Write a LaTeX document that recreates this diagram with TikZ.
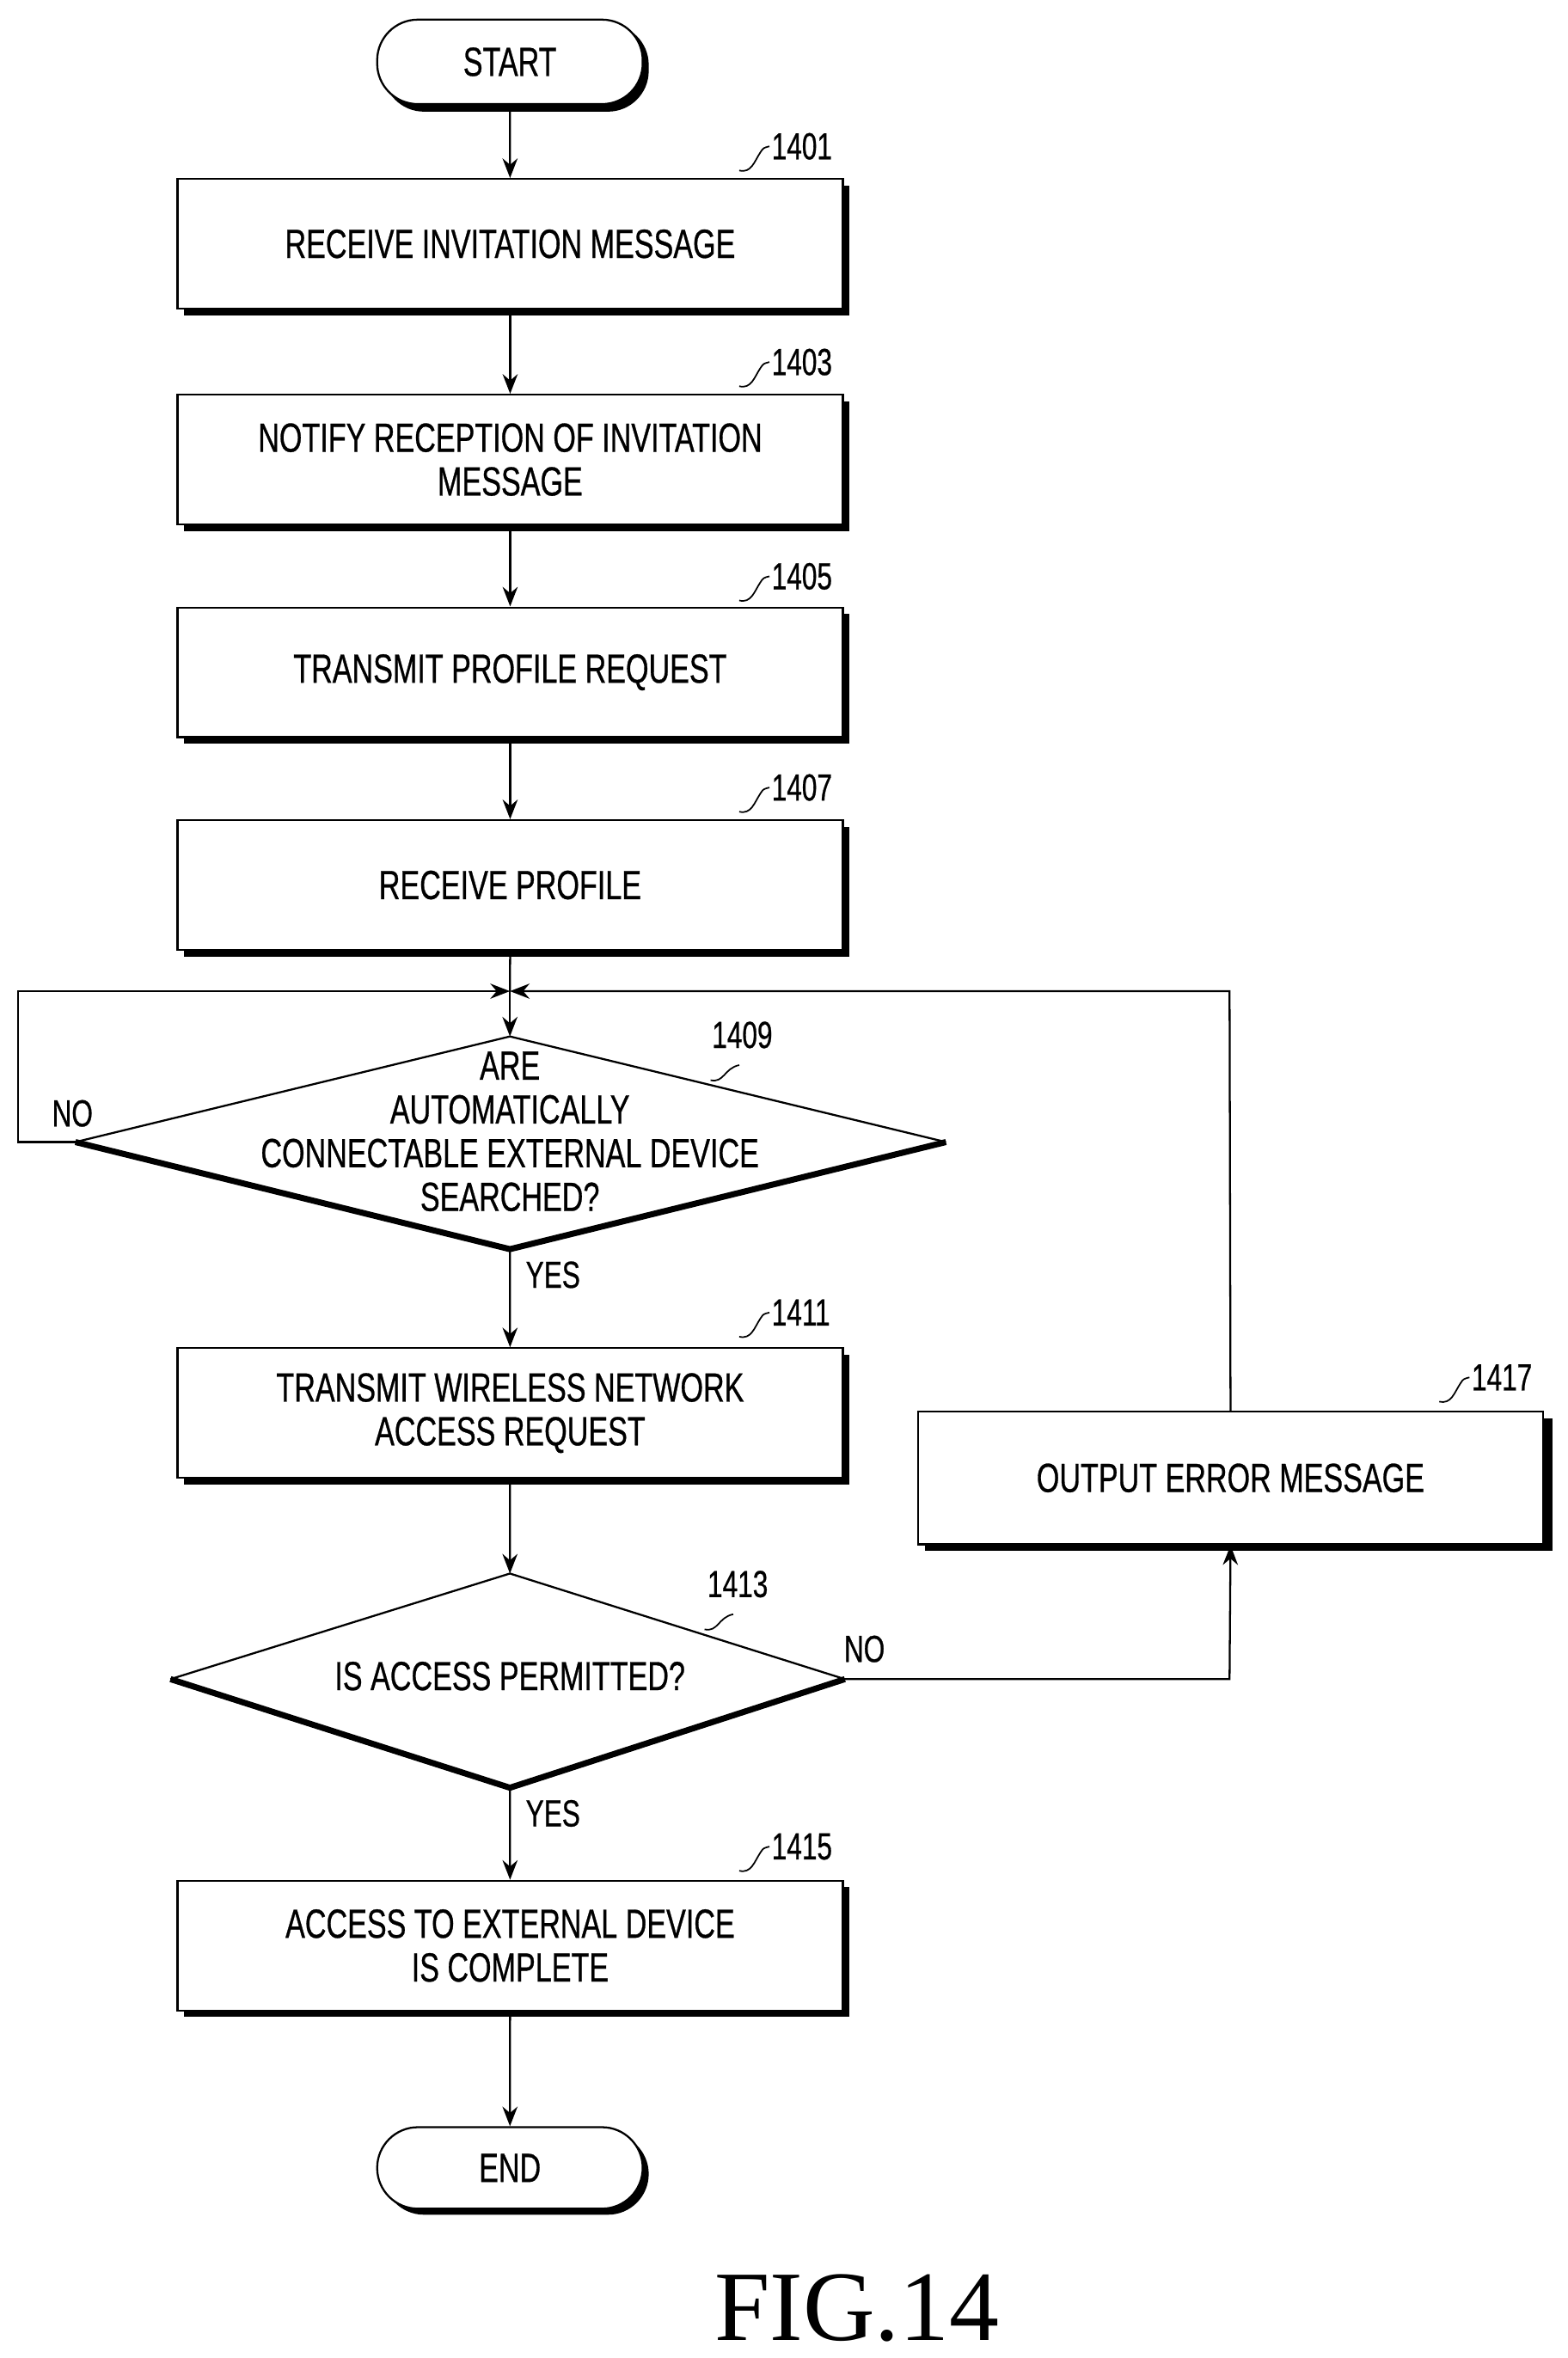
\documentclass[tikz,border=0pt]{standalone}
\usepackage{fontspec}
\setmainfont{Liberation Sans}[FakeStretch=0.72,FakeBold=0.6]
\newfontfamily\figfont{Liberation Serif}
\usetikzlibrary{arrows.meta,shapes.geometric}
\begin{document}
\begin{tikzpicture}[x=1pt,y=-1pt,
  txt/.style={font=\fontsize{27}{29}\selectfont,align=center},
  box/.style={draw,line width=1.3pt,fill=white,minimum width=441pt,minimum height=86pt,txt},
  term/.style={draw,line width=1.3pt,fill=white,rounded corners=27pt,minimum width=176pt,minimum height=56pt,txt},
  arr/.style={line width=1.3pt,-{Stealth[length=13pt,width=10pt]}},
  ln/.style={line width=1.3pt},
  num/.style={font=\fontsize{25}{26}\selectfont},
  yn/.style={font=\fontsize{25}{26}\selectfont}]
\useasboundingbox (0,0) rectangle (1039,1563);
\newcommand\shbox[4]{%
  \fill (#2+5,#3+5) rectangle +(441,86);
  \node[box,anchor=north west] (#1) at (#2,#3) {#4};}
\fill[rounded corners=27pt] (254,16) rectangle (430,74);
\node[term] (start) at (338,41) {START};
\shbox{b1401}{117}{118}{RECEIVE INVITATION MESSAGE}
\shbox{b1403}{117}{261}{NOTIFY RECEPTION OF INVITATION\\MESSAGE}
\shbox{b1405}{117}{402}{TRANSMIT PROFILE REQUEST}
\shbox{b1407}{117}{543}{RECEIVE PROFILE}
\shbox{b1411}{117}{893}{TRANSMIT WIRELESS NETWORK\\ACCESS REQUEST}
\shbox{b1415}{117}{1246}{ACCESS TO EXTERNAL DEVICE\\IS COMPLETE}
\fill (613,940) rectangle +(416,88);
\node[box,minimum width=414pt,minimum height=88pt,anchor=north west] (b1417) at (608,935) {OUTPUT ERROR MESSAGE};
\fill[rounded corners=27pt] (254,1414) rectangle (430,1468);
\node[term,minimum height=54pt] (end) at (338,1437) {END};
\coordinate (d1t) at (338,687); \coordinate (d1l) at (50,757);
\coordinate (d1r) at (627,757); \coordinate (d1b) at (338,828);
\fill[white] (d1t)--(d1r)--(d1b)--(d1l)--cycle;
\draw[ln] (d1l)--(d1t)--(d1r);
\draw[line width=4pt] (d1l)--(d1b)--(d1r);
\node[txt] (d1) at (338,750) {ARE\\AUTOMATICALLY\\CONNECTABLE EXTERNAL DEVICE\\SEARCHED?};
\coordinate (d2t) at (338,1043); \coordinate (d2l) at (113,1113);
\coordinate (d2r) at (560,1113); \coordinate (d2b) at (338,1185);
\draw[ln] (d2l)--(d2t)--(d2r);
\draw[line width=4pt] (d2l)--(d2b)--(d2r);
\node[txt] (d2) at (338,1111) {IS ACCESS PERMITTED?};
\newcommand\lbl[3]{%
  \node[num,anchor=west] at (#1+6,#2) {#3};
  \draw[line width=1pt] (#1-12,#2+16) .. controls (#1-4,#2+18) and (#1-2,#2+10) .. (#1+2,#2+4) .. controls (#1+4,#2+1) .. (#1+8,#2);}
\lbl{502}{97}{1401}
\lbl{502}{240}{1403}
\lbl{502}{382}{1405}
\lbl{502}{522}{1407}
\lbl{502}{870}{1411}
\lbl{966}{913}{1417}
\node[num] at (492,686) {1409};
\draw[line width=1pt] (471,716) .. controls (480,718) and (480,708) .. (490,706);
\node[num] at (489,1050) {1413};
\draw[line width=1pt] (467,1080) .. controls (476,1082) and (476,1072) .. (486,1070);
\lbl{502}{1224}{1415}
\draw[arr] (start) -- (b1401);
\draw[arr] (b1401) -- (b1403);
\draw[arr] (b1403) -- (b1405);
\draw[arr] (b1405) -- (b1407);
\coordinate (m) at (338,657);
\draw[ln] (b1407.south) -- (m);
\draw[arr] (m) -- (d1t);
\draw[arr] (d1l) -- (12,757) -- (12,657) -- (m);
\draw[arr] (b1417.north) -- (815,657) -- (m);
\draw[arr] (d1b) -- (b1411);
\draw[arr] (b1411) -- (d2t);
\draw[arr] (d2r) -- (815,1113) -- (b1417.south);
\draw[arr] (d2b) -- (b1415);
\draw[arr] (b1415) -- (end);
\node[yn] at (48,738) {NO};
\node[yn,anchor=west] at (345,845) {YES};
\node[yn] at (573,1093) {NO};
\node[yn,anchor=west] at (345,1202) {YES};
\node[font=\figfont\fontsize{66}{70}\selectfont] at (568,1530) {FIG.14};
\end{tikzpicture}
\end{document}
